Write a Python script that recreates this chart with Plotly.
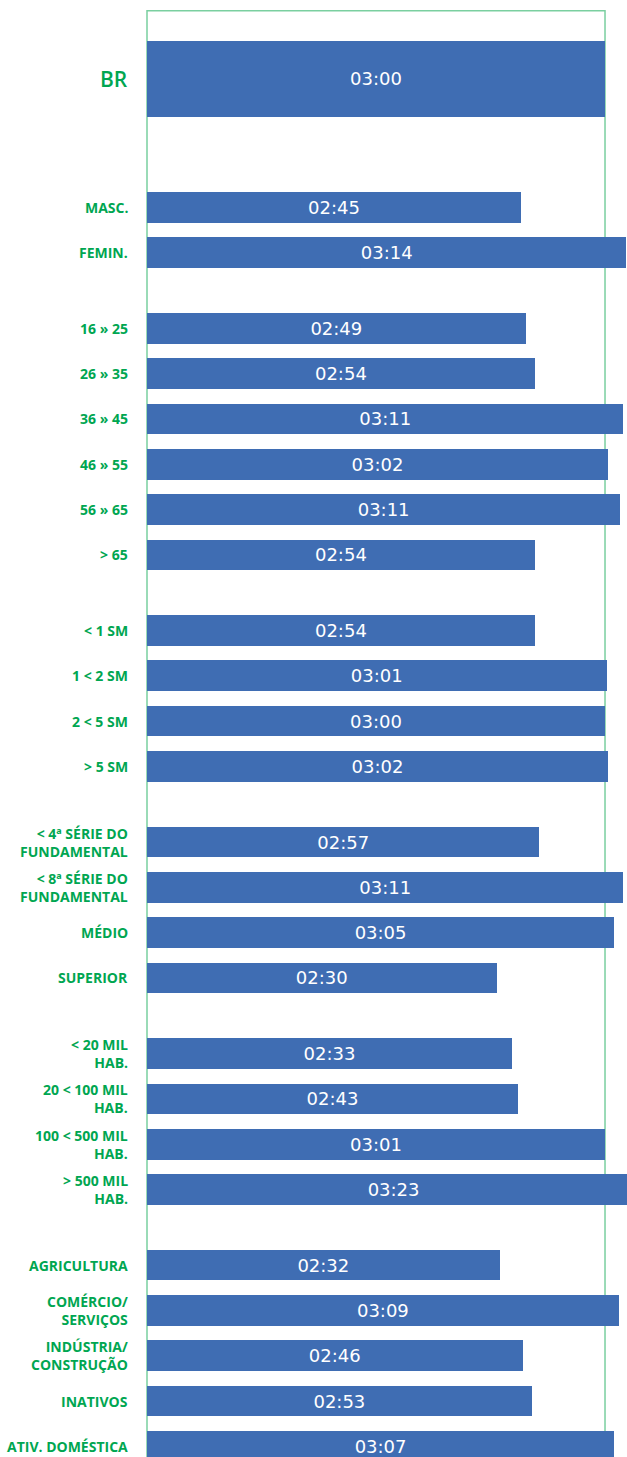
import plotly.graph_objects as go

# ---------------- data ----------------
categories = [
    "BR",
    "MASC.", "FEMIN.",
    "16 » 25", "26 » 35", "36 » 45", "46 » 55", "56 » 65", "> 65",
    "< 1 SM", "1 < 2 SM", "2 < 5 SM", "> 5 SM",
    "< 4ª SÉRIE DO<br>FUNDAMENTAL", "< 8ª SÉRIE DO<br>FUNDAMENTAL", "MÉDIO", "SUPERIOR",
    "< 20 MIL<br>HAB.", "20 < 100 MIL<br>HAB.", "100 < 500 MIL<br>HAB.", "> 500 MIL<br>HAB.",
    "AGRICULTURA", "COMÉRCIO/<br>SERVIÇOS", "INDÚSTRIA/<br>CONSTRUÇÃO", "INATIVOS", "ATIV. DOMÉSTICA",
]
time_labels = [
    "03:00",
    "02:45", "03:14",
    "02:49", "02:54", "03:11", "03:02", "03:11", "02:54",
    "02:54", "03:01", "03:00", "03:02",
    "02:57", "03:11", "03:05", "02:30",
    "02:33", "02:43", "03:01", "03:23",
    "02:32", "03:09", "02:46", "02:53", "03:07",
]
# bar lengths as drawn in the picture (axis units, BR = 3.00)
bar_lengths = [
    3.00,
    2.45, 3.14,
    2.48, 2.54, 3.12, 3.02, 3.10, 2.54,
    2.54, 3.01, 3.00, 3.02,
    2.57, 3.12, 3.06, 2.29,
    2.39, 2.43, 3.00, 3.23,
    2.31, 3.09, 2.46, 2.52, 3.06,
]
group_sizes = [1, 2, 6, 4, 4, 4, 5]

# ---------------- layout helpers ----------------
ROW = 1.0
GAP = 0.667
HEAD_EXTRA = 1.166
positions = []
cursor = 0.0
for gi, n in enumerate(group_sizes):
    for _ in range(n):
        positions.append(cursor)
        cursor += ROW
    cursor += GAP
    if gi == 0:
        cursor += HEAD_EXTRA

widths = [1.67 if i == 0 else 0.677 for i in range(len(categories))]

BLUE = "#3F6DB3"
GREEN = "#00A651"
FRAME = "#7ACFA0"

W, H = 627, 1457
X_MAX = 3.144
Y_TOP = -1.741
Y_BOTTOM = Y_TOP + H / 45.33

fig = go.Figure()
fig.add_trace(go.Bar(
    x=bar_lengths,
    y=positions,
    width=widths,
    orientation="h",
    marker=dict(color=BLUE, line=dict(width=0)),
    text=time_labels,
    texttemplate="%{text}",
    textposition="inside",
    insidetextanchor="middle",
    textangle=0,
    constraintext="none",
    textfont=dict(color="white", family="DejaVu Sans", size=18),
    hoverinfo="skip",
    cliponaxis=True,
))

# green frame (left, top, right at BR value)
frame_top = 1 - 10.7 / H
fig.add_shape(type="rect", xref="x domain", yref="y domain",
              x0=0, x1=bar_lengths[0] / X_MAX, y0=frame_top, y1=-0.05,
              line=dict(color=FRAME, width=1.5), fillcolor="rgba(0,0,0,0)",
              layer="below")

for i, (cat, pos) in enumerate(zip(categories, positions)):
    fig.add_annotation(
        xref="paper", yref="y", x=0, y=pos,
        xanchor="right", yanchor="middle", xshift=-17,
        text=cat, showarrow=False, align="right",
        font=dict(color=GREEN, family="Open Sans",
                  size=21 if i == 0 else 14,
                  weight=600 if i == 0 else 700),
    )

fig.update_layout(
    width=W, height=H,
    margin=dict(l=147, r=0, t=0, b=0),
    paper_bgcolor="white", plot_bgcolor="white",
    showlegend=False,
    bargap=0,
    xaxis=dict(range=[0, X_MAX], visible=False, fixedrange=True),
    yaxis=dict(range=[Y_BOTTOM, Y_TOP], visible=False, fixedrange=True),
)

fig.write_html(
    "out.html",
    config={"displayModeBar": False, "staticPlot": True},
    post_script="document.body.style.margin='0';document.body.style.overflow='hidden';",
)
